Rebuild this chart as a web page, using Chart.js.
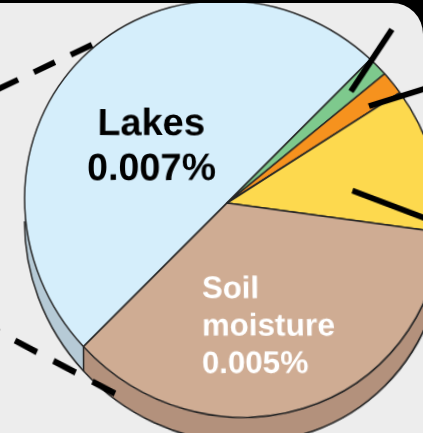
<!DOCTYPE html>
<html>
<head>
<meta charset="utf-8">
<script src="https://cdn.jsdelivr.net/npm/chart.js@4.4.1/dist/chart.umd.min.js"></script>
<style>
  html, body { margin: 0; padding: 0; width: 423px; height: 433px; overflow: hidden; background: #000; }
  #panel { position: absolute; left: -40px; top: 3px; width: 463px; height: 480px; background: #ededed; border-top-right-radius: 31px; z-index: 0; }
  #pie { position: absolute; left: 0; top: 0; z-index: 1; }
  #rule { position: absolute; left: 0; top: 0; width: 392px; height: 3px; background: #000; z-index: 2; }
</style>
</head>
<body>
<div id="panel"></div>
<canvas id="pie" width="470" height="470"></canvas>
<div id="rule"></div>
<script>
// Share of the world's water held in each small reservoir (percent)
const categories = ['Lakes', 'Biological water', 'Rivers', 'Atmosphere', 'Soil moisture'];
const shares     = [0.007, 0.00021, 0.00025, 0.00154, 0.005];
const topColors  = ['#d5eefb', '#7ec98d', '#f6921e', '#fdd94e', '#cfac93'];
const sideColors = ['#b6cad6', '#5f9e6c', '#c7741a', '#d9b43c', '#b3917c'];
const labelInk   = ['#000000', null, null, null, '#ffffff'];

// geometry of the drawing
const CX = 227, CY = 203, R = 200, DEPTH = 23;
const W = 470, H = 470;
const SQ = Math.SQRT1_2;
// slight perspective: the lower-right rim sits closer to the viewer
const tilt = { a: 1.066, b: 1.015, c: -0.000199, sy: 1.0 };

function project(x, y) {            // canvas offset -> page offset
  const u = (x + y) * SQ, v = (y - x) * SQ;
  const w = 1 + tilt.c * u;
  const up = tilt.a * u / w, vp = tilt.b * v / w;
  return [(up - vp) * SQ, (up + vp) * SQ * tilt.sy];
}
function unproject(X, Y) {          // page offset -> canvas offset
  Y = Y / tilt.sy;
  const up = (X + Y) * SQ, vp = (Y - X) * SQ;
  const u = up / (tilt.a - tilt.c * up);
  const w = 1 + tilt.c * u;
  const v = vp * w / tilt.b;
  return [(u - v) * SQ, (u + v) * SQ];
}
const toPage = (x, y) => { const p = project(x - CX, y - CY); return [p[0] + CX, p[1] + CY]; };
const toCanvas = (X, Y) => { const p = unproject(X - CX, Y - CY); return [p[0] + CX, p[1] + CY]; };

const canvas = document.getElementById('pie');
canvas.style.transformOrigin = CX + 'px ' + CY + 'px';
canvas.style.transform = 'matrix3d(' + [
  (tilt.a + tilt.b) / 2, tilt.sy * (tilt.a - tilt.b) / 2, 0, tilt.c * SQ,
  (tilt.a - tilt.b) / 2, tilt.sy * (tilt.a + tilt.b) / 2, 0, tilt.c * SQ,
  0, 0, 1, 0,
  0, 0, 0, 1
].join(',') + ')';

// text, leader lines and connector lines, positioned on the page
const notes = {
  labels: [
    { index: 0, x: 151, lines: [135, 180], size: 38, align: 'center' },
    { index: 4, x: 202, lines: [298, 335.5, 373], size: 31, align: 'left', split: true }
  ],
  leaders: [
    { index: 1, t: 0.53, rf: 0.82, dx: 41, dy: -62 },
    { index: 2, t: 0.75, rf: 0.84, dx: 85, dy: -26.6 },
    { index: 3, t: 0.66, rf: 0.60, dx: 112, dy: 42.6 }
  ],
  connectors: [
    { from: [92, 44.8], to: [-60, 116.5] },
    { from: [115, 393.5], to: [-60, 300.8] }
  ]
};

function jacobian(x, y) {
  const e = 0.5;
  const p0 = project(x - CX, y - CY), px = project(x - CX + e, y - CY), py = project(x - CX, y - CY + e);
  return [(px[0] - p0[0]) / e, (py[0] - p0[0]) / e, (px[1] - p0[1]) / e, (py[1] - p0[1]) / e];
}

function uprightText(ctx, text, X, Y, size, color, align) {
  const [x, y] = toCanvas(X, Y);
  const [j11, j12, j21, j22] = jacobian(x, y);
  const det = j11 * j22 - j12 * j21;
  ctx.save();
  ctx.translate(x, y);
  ctx.transform(j22 / det, -j21 / det, -j12 / det, j11 / det, 0, 0);
  ctx.font = 'bold ' + size + 'px "Liberation Sans", Arial, sans-serif';
  ctx.fillStyle = color;
  ctx.textAlign = align;
  ctx.textBaseline = 'alphabetic';
  ctx.fillText(text, 0, 0);
  ctx.restore();
}

function pageLine(ctx, a, b) {
  const p = toCanvas(a[0], a[1]), q = toCanvas(b[0], b[1]);
  ctx.beginPath();
  ctx.moveTo(p[0], p[1]);
  ctx.lineTo(q[0], q[1]);
  ctx.stroke();
}

// the rim of the disc below each slice
const sidePlugin = {
  id: 'pieSide',
  beforeDatasetsDraw(chart, args, opts) {
    const ctx = chart.ctx;
    const arcs = chart.getDatasetMeta(0).data;
    const d = opts.depth;
    let cx = 0, cy = 0, r = 0;
    ctx.save();
    arcs.forEach((arc, i) => {
      const p = arc.getProps(['x', 'y', 'startAngle', 'endAngle', 'outerRadius'], true);
      cx = p.x; cy = p.y; r = p.outerRadius;
      for (const base of [-2 * Math.PI, 0, 2 * Math.PI]) {
        const a0 = Math.max(p.startAngle, base), a1 = Math.min(p.endAngle, base + Math.PI);
        if (a1 <= a0) continue;
        ctx.beginPath();
        ctx.arc(p.x, p.y, r, a0, a1);
        ctx.arc(p.x, p.y + d, r, a1, a0, true);
        ctx.closePath();
        ctx.fillStyle = sideColors[i];
        ctx.fill();
      }
    });
    ctx.strokeStyle = opts.color;
    ctx.lineWidth = opts.width;
    ctx.beginPath();
    ctx.arc(cx, cy + d, r, 0, Math.PI);
    ctx.stroke();
    arcs.forEach(arc => {
      const p = arc.getProps(['x', 'y', 'startAngle', 'outerRadius'], true);
      const a = ((p.startAngle % (2 * Math.PI)) + 2 * Math.PI) % (2 * Math.PI);
      if (a > 0.02 && a < Math.PI - 0.02) {
        const ex = p.x + r * Math.cos(a), ey = p.y + r * Math.sin(a);
        ctx.beginPath();
        ctx.moveTo(ex, ey);
        ctx.lineTo(ex, ey + d);
        ctx.stroke();
      }
    });
    ctx.restore();
  }
};

const notesPlugin = {
  id: 'pieNotes',
  afterDatasetsDraw(chart, args, opts) {
    const ctx = chart.ctx;
    const arcs = chart.getDatasetMeta(0).data;
    ctx.save();
    ctx.strokeStyle = '#000';
    ctx.lineCap = 'butt';

    // dashed connectors
    ctx.lineWidth = 6;
    ctx.setLineDash([24, 18]);
    notes.connectors.forEach(c => pageLine(ctx, c.from, c.to));
    ctx.setLineDash([]);

    // leader lines to the small slices
    ctx.lineWidth = 5.5;
    notes.leaders.forEach(l => {
      const p = arcs[l.index].getProps(['x', 'y', 'startAngle', 'endAngle', 'outerRadius'], true);
      const ang = p.startAngle + l.t * (p.endAngle - p.startAngle);
      const sx = p.x + p.outerRadius * l.rf * Math.cos(ang);
      const sy = p.y + p.outerRadius * l.rf * Math.sin(ang);
      const s = toPage(sx, sy);
      pageLine(ctx, s, [s[0] + l.dx, s[1] + l.dy]);
    });

    // slice names and values
    notes.labels.forEach(lb => {
      const name = categories[lb.index];
      const words = lb.split ? name.split(' ') : [name];
      const lines = words.concat([shares[lb.index] + '%']);
      lines.forEach((txt, k) => uprightText(ctx, txt, lb.x, lb.lines[k], lb.size, labelInk[lb.index], lb.align));
    });
    ctx.restore();
  }
};

new Chart(canvas, {
  type: 'pie',
  data: {
    labels: categories,
    datasets: [{
      data: shares,
      backgroundColor: topColors,
      borderColor: '#262626',
      borderWidth: 1.5,
      radius: R,
      rotation: 225
    }]
  },
  options: {
    responsive: false,
    animation: false,
    devicePixelRatio: 1,
    events: [],
    radius: R,
    rotation: 225,
    layout: { padding: { left: 0, top: 0, right: W - 2 * CX, bottom: H - 2 * CY } },
    plugins: {
      legend: { display: false },
      tooltip: { enabled: false },
      pieSide: { depth: DEPTH, color: '#262626', width: 1.5 }
    }
  },
  plugins: [sidePlugin, notesPlugin]
});
</script>
</body>
</html>
